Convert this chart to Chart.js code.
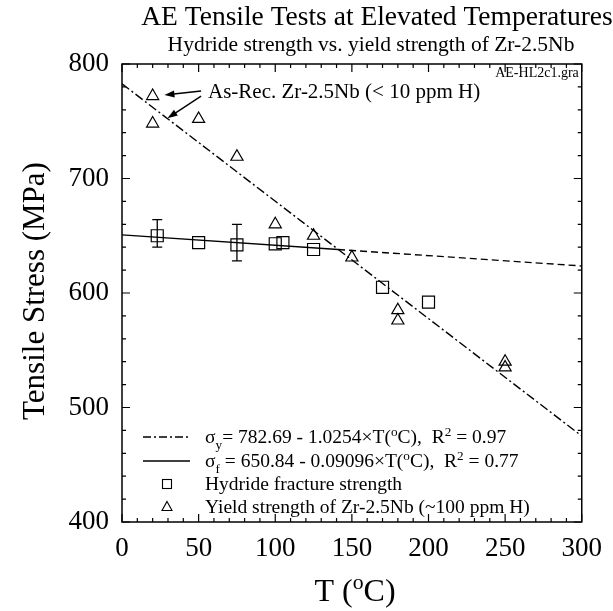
<!DOCTYPE html>
<html>
<head>
<meta charset="utf-8">
<script src="https://cdn.jsdelivr.net/npm/chart.js@4/dist/chart.umd.min.js"></script>
<style>
  html, body { margin: 0; padding: 0; background: #fff; }
  #wrap { width: 613px; height: 611px; }
</style>
</head>
<body>
<div id="wrap"><canvas id="c"></canvas></div>
<script>
// yield strength of Zr-2.5Nb (triangles)
const yieldT = [20, 20, 50, 75, 100, 125, 150, 180, 180, 250, 250];
const yieldS = [772, 748, 752, 719, 660, 650, 631, 585, 576, 540, 535];

// hydride fracture strength (squares) + error bars
const hydT = [23, 50, 75, 100, 105, 125, 170, 200];
const hydS = [650, 644, 642, 643, 644, 638, 605, 592];
const hydLow = [640, null, 628, null, null, null, null, null];
const hydHigh = [664, null, 660, null, null, null, null, null];

// fit lines
const fitYT = [0, 300];
const fitYS = [782.7, 475.1];
const fitFT = [0, 141];
const fitFS = [650.8, 638.0];
const fitFxT = [141, 300];
const fitFxS = [638.0, 623.6];

const xTicks = [0, 50, 100, 150, 200, 250, 300];
const yTicks = [400, 500, 600, 700, 800];

// as-received annotation arrows (tail -> tip, data coords)
const arrowTail = [[51.6, 776.4], [51.6, 772.0]];
const arrowTip = [[27.7, 772.9], [29.7, 752.7]];

const serif = '"Liberation Serif", "Times New Roman", serif';
const pts = (xs, ys) => xs.map((x, i) => ({ x: x, y: ys[i] }));

function richText(ctx, x, y, parts, size) {
  parts.forEach(p => {
    const s = p.s ? size * 0.68 : size;
    ctx.font = s + 'px ' + serif;
    let dy = 0;
    if (p.s === 'sub') dy = size * 0.28;
    if (p.s === 'sup') dy = -size * 0.38;
    ctx.fillText(p.t, x, y + dy);
    x += ctx.measureText(p.t).width;
  });
}

function richWidth(ctx, parts, size) {
  let w = 0;
  parts.forEach(p => {
    ctx.font = (p.s ? size * 0.68 : size) + 'px ' + serif;
    w += ctx.measureText(p.t).width;
  });
  return w;
}

function arrow(ctx, x1, y1, x2, y2) {
  const a = Math.atan2(y2 - y1, x2 - x1), L = 10, W = 3.5;
  const c = Math.cos(a), s = Math.sin(a);
  ctx.beginPath();
  ctx.moveTo(x1, y1);
  ctx.lineTo(x2 - c * L * 0.7, y2 - s * L * 0.7);
  ctx.stroke();
  ctx.beginPath();
  ctx.moveTo(x2, y2);
  ctx.lineTo(x2 - c * L + s * W, y2 - s * L - c * W);
  ctx.lineTo(x2 - c * L - s * W, y2 - s * L + c * W);
  ctx.closePath();
  ctx.fill();
}

const framePlugin = {
  id: 'frame',
  afterDatasetsDraw(chart) {
    const { ctx, chartArea: a, scales: { x, y } } = chart;
    ctx.save();
    ctx.strokeStyle = '#000';
    ctx.lineWidth = 1.5;
    ctx.strokeRect(a.left, a.top, a.right - a.left, a.bottom - a.top);

    ctx.lineWidth = 1.2;
    ctx.beginPath();
    for (let v = 0; v <= 300; v += 10) {
      const px = x.getPixelForValue(v), len = v % 50 === 0 ? 8 : 4;
      ctx.moveTo(px, a.bottom); ctx.lineTo(px, a.bottom - len);
      ctx.moveTo(px, a.top); ctx.lineTo(px, a.top + len);
    }
    for (let v = 400; v <= 800; v += 20) {
      const py = y.getPixelForValue(v), len = v % 100 === 0 ? 8 : 4;
      ctx.moveTo(a.left, py); ctx.lineTo(a.left + len, py);
      ctx.moveTo(a.right, py); ctx.lineTo(a.right - len, py);
    }
    ctx.stroke();

    // error bars
    ctx.lineWidth = 1.3;
    ctx.beginPath();
    hydT.forEach((t, i) => {
      if (hydLow[i] == null) return;
      const px = x.getPixelForValue(t);
      const p1 = y.getPixelForValue(hydLow[i]), p2 = y.getPixelForValue(hydHigh[i]);
      ctx.moveTo(px, p1); ctx.lineTo(px, p2);
      ctx.moveTo(px - 5, p1); ctx.lineTo(px + 5, p1);
      ctx.moveTo(px - 5, p2); ctx.lineTo(px + 5, p2);
    });
    ctx.stroke();
    ctx.restore();
  },
  afterDraw(chart) {
    const { ctx, scales: { x, y } } = chart;
    ctx.save();
    ctx.fillStyle = '#000';
    ctx.strokeStyle = '#000';

    // titles
    ctx.textAlign = 'center';
    ctx.textBaseline = 'middle';
    ctx.font = '27.5px ' + serif;
    ctx.fillText('AE Tensile Tests at Elevated Temperatures', 377, 18);
    ctx.font = '21.5px ' + serif;
    ctx.fillText('Hydride strength vs. yield strength of Zr-2.5Nb', 371, 45);

    // y title
    ctx.save();
    ctx.translate(36, 291);
    ctx.rotate(-Math.PI / 2);
    ctx.font = '31px ' + serif;
    ctx.fillText('Tensile Stress (MPa)', 0, 0);
    ctx.restore();

    // x title
    ctx.textAlign = 'left';
    ctx.textBaseline = 'alphabetic';
    const xt = [{ t: 'T (' }, { t: 'o', s: 'sup' }, { t: 'C)' }];
    const w = richWidth(ctx, xt, 32);
    richText(ctx, 355 - w / 2, 601, xt, 32);

    // file tag
    ctx.textAlign = 'center';
    ctx.textBaseline = 'middle';
    ctx.font = '14px ' + serif;
    ctx.fillText('AE-HL2c1.gra', 537, 73);

    // annotation
    ctx.textAlign = 'left';
    ctx.font = '21px ' + serif;
    ctx.fillText('As-Rec. Zr-2.5Nb (< 10 ppm H)', 208, 92);
    ctx.lineWidth = 1.4;
    arrowTail.forEach((tl, i) => {
      arrow(ctx, x.getPixelForValue(tl[0]), y.getPixelForValue(tl[1]),
        x.getPixelForValue(arrowTip[i][0]), y.getPixelForValue(arrowTip[i][1]));
    });

    // legend
    const rows = [437, 461, 484, 507];
    const lx0 = 143, lx1 = 190, sx = 167, tx = 205, fs = 19.5;
    ctx.lineWidth = 1.3;
    ctx.setLineDash([8, 3, 2, 3]);
    ctx.beginPath(); ctx.moveTo(lx0, rows[0]); ctx.lineTo(lx1, rows[0]); ctx.stroke();
    ctx.setLineDash([]);
    ctx.beginPath(); ctx.moveTo(lx0, rows[1]); ctx.lineTo(lx1, rows[1]); ctx.stroke();
    ctx.lineWidth = 1.1;
    ctx.strokeRect(sx - 4.5, rows[2] - 4.5, 9, 9);
    ctx.beginPath();
    ctx.moveTo(sx, rows[3] - 5.5);
    ctx.lineTo(sx + 5, rows[3] + 3.5);
    ctx.lineTo(sx - 5, rows[3] + 3.5);
    ctx.closePath(); ctx.stroke();

    ctx.textBaseline = 'alphabetic';
    const base = fs * 0.33;
    richText(ctx, tx, rows[0] + base, [
      { t: 'σ' }, { t: 'y', s: 'sub' }, { t: '= 782.69 - 1.0254×T(' }, { t: 'o', s: 'sup' },
      { t: 'C),  R' }, { t: '2', s: 'sup' }, { t: ' = 0.97' }], fs);
    richText(ctx, tx, rows[1] + base, [
      { t: 'σ' }, { t: 'f', s: 'sub' }, { t: ' = 650.84 - 0.09096×T(' }, { t: 'o', s: 'sup' },
      { t: 'C),  R' }, { t: '2', s: 'sup' }, { t: ' = 0.77' }], fs);
    richText(ctx, tx, rows[2] + base, [{ t: 'Hydride fracture strength' }], fs);
    richText(ctx, tx, rows[3] + base, [{ t: 'Yield strength of Zr-2.5Nb (~100 ppm H)' }], fs);

    ctx.restore();
  }
};

new Chart(document.getElementById('c').getContext('2d'), {
  type: 'scatter',
  data: {
    datasets: [
      {
        type: 'line', data: pts(fitYT, fitYS), showLine: true, pointRadius: 0,
        borderColor: '#000', borderWidth: 1.4, borderDash: [9, 3, 2, 3], fill: false
      },
      {
        type: 'line', data: pts(fitFT, fitFS), showLine: true, pointRadius: 0,
        borderColor: '#000', borderWidth: 1.4, fill: false
      },
      {
        type: 'line', data: pts(fitFxT, fitFxS), showLine: true, pointRadius: 0,
        borderColor: '#000', borderWidth: 1.4, borderDash: [7, 4], fill: false
      },
      {
        data: pts(hydT, hydS), pointStyle: 'rect', pointRadius: 8.5,
        borderColor: '#000', borderWidth: 1.2, backgroundColor: 'rgba(0,0,0,0)'
      },
      {
        data: pts(yieldT, yieldS), pointStyle: 'triangle', pointRadius: 7,
        borderColor: '#000', borderWidth: 1.2, backgroundColor: 'rgba(0,0,0,0)'
      }
    ]
  },
  options: {
    responsive: true,
    maintainAspectRatio: false,
    animation: false,
    devicePixelRatio: 1,
    layout: { padding: { top: 64, right: 26, left: 0, bottom: 0 } },
    plugins: { legend: { display: false }, tooltip: { enabled: false } },
    scales: {
      x: {
        type: 'linear', min: 0, max: 300,
        afterFit: s => { s.height = 89; },
        afterBuildTicks: s => { s.ticks = xTicks.map(v => ({ value: v })); },
        grid: { display: false, drawTicks: false },
        border: { display: false },
        ticks: { color: '#000', font: { family: serif, size: 27 }, padding: 11, maxRotation: 0 }
      },
      y: {
        type: 'linear', min: 400, max: 800,
        afterFit: s => { s.width = 122; },
        afterBuildTicks: s => { s.ticks = yTicks.map(v => ({ value: v })); },
        grid: { display: false, drawTicks: false },
        border: { display: false },
        ticks: { color: '#000', font: { family: serif, size: 27 }, padding: 13 }
      }
    }
  },
  plugins: [framePlugin]
});
</script>
</body>
</html>
